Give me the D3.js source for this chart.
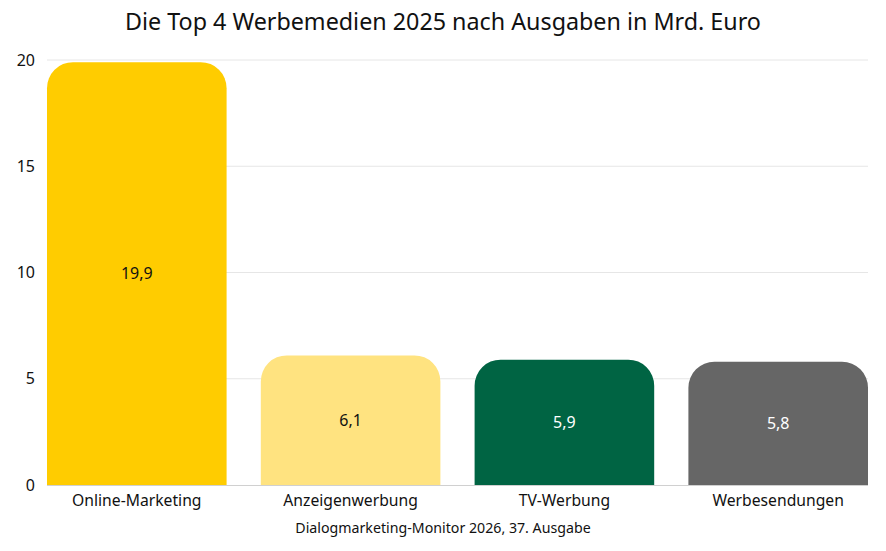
<!DOCTYPE html>
<html>
<head>
<meta charset="utf-8">
<script src="https://cdn.jsdelivr.net/npm/d3@7"></script>
<style>
  body { margin: 0; background: #fff; }
  svg text { font-family: "Noto Sans", "Open Sans", sans-serif; fill: #111; }
</style>
</head>
<body>
<div class="chart"></div>
<script>
// data
var categories = ["Online-Marketing", "Anzeigenwerbung", "TV-Werbung", "Werbesendungen"];
var values = [19.9, 6.1, 5.9, 5.8];
var labels = ["19,9", "6,1", "5,9", "5,8"];
var barColors = ["#ffcc00", "#ffe380", "#006443", "#666666"];
var labelColors = ["#111111", "#111111", "#ffffff", "#ffffff"];
var yTicks = [0, 5, 10, 15, 20];

var width = 886,
    height = 551;
var margin = { top: 60, right: 18, bottom: 66, left: 47 };

var svg = d3.select(".chart")
    .append("svg")
    .attr("width", width)
    .attr("height", height);

var x = d3.scaleBand()
    .domain(categories)
    .range([margin.left, width - margin.right])
    .paddingInner(0.16)
    .paddingOuter(0);

var y = d3.scaleLinear()
    .domain([0, 20])
    .range([height - margin.bottom, margin.top]);

// title
svg.append("text")
    .attr("x", width / 2)
    .attr("y", 30)
    .attr("text-anchor", "middle")
    .style("font-size", "23.3px")
    .text("Die Top 4 Werbemedien 2025 nach Ausgaben in Mrd. Euro");

// gridlines
svg.append("g")
    .selectAll("line")
    .data(yTicks.filter(function(d) { return d > 0; }))
    .enter()
    .append("line")
    .attr("x1", margin.left)
    .attr("x2", width - margin.right)
    .attr("y1", function(d) { return y(d); })
    .attr("y2", function(d) { return y(d); })
    .attr("stroke", "#e6e6e6")
    .attr("stroke-width", 1);

// y axis labels
svg.append("g")
    .selectAll("text")
    .data(yTicks)
    .enter()
    .append("text")
    .attr("x", 35)
    .attr("y", function(d) { return y(d); })
    .attr("dy", "0.35em")
    .attr("text-anchor", "end")
    .style("font-size", "16px")
    .text(function(d) { return d; });

// bars with rounded top corners
var r = 26;
function barPath(d, i) {
    var x0 = x(categories[i]),
        w = x.bandwidth(),
        yt = y(d),
        yb = y(0);
    return "M" + x0 + "," + yb +
        "V" + (yt + r) +
        "A" + r + "," + r + " 0 0 1 " + (x0 + r) + "," + yt +
        "H" + (x0 + w - r) +
        "A" + r + "," + r + " 0 0 1 " + (x0 + w) + "," + (yt + r) +
        "V" + yb + "Z";
}

svg.append("g")
    .selectAll("path")
    .data(values)
    .enter()
    .append("path")
    .attr("d", barPath)
    .attr("fill", function(d, i) { return barColors[i]; });

// baseline
svg.append("line")
    .attr("x1", margin.left)
    .attr("x2", width - margin.right)
    .attr("y1", y(0) + 0.5)
    .attr("y2", y(0) + 0.5)
    .attr("stroke", "#d0d0d0")
    .attr("stroke-width", 1);

// value labels
svg.append("g")
    .selectAll("text")
    .data(values)
    .enter()
    .append("text")
    .attr("x", function(d, i) { return x(categories[i]) + x.bandwidth() / 2; })
    .attr("y", function(d) { return (y(d) + y(0)) / 2; })
    .attr("dy", "0.35em")
    .attr("text-anchor", "middle")
    .style("font-size", "16px")
    .style("fill", function(d, i) { return labelColors[i]; })
    .text(function(d, i) { return labels[i]; });

// category labels
svg.append("g")
    .selectAll("text")
    .data(categories)
    .enter()
    .append("text")
    .attr("x", function(d) { return x(d) + x.bandwidth() / 2; })
    .attr("y", y(0) + 21)
    .attr("text-anchor", "middle")
    .style("font-size", "15.7px")
    .text(function(d) { return d; });

// source
svg.append("text")
    .attr("x", width / 2)
    .attr("y", 533)
    .attr("text-anchor", "middle")
    .style("font-size", "14.2px")
    .text("Dialogmarketing-Monitor 2026, 37. Ausgabe");
</script>
</body>
</html>
